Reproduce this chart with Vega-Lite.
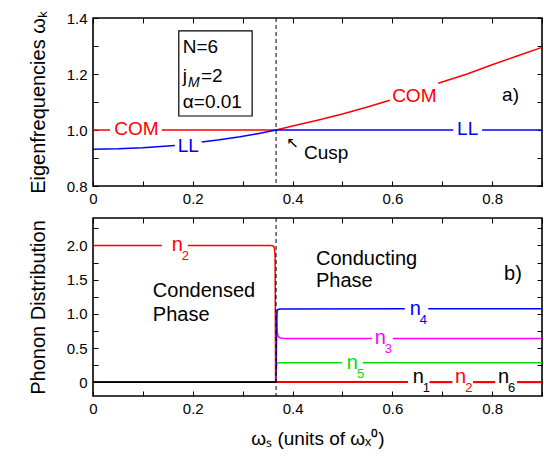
{
  "$schema": "https://vega.github.io/schema/vega-lite/v6.json",
  "padding": {"left": 27, "top": 9, "right": 0, "bottom": 5},
  "bounds": "flush",
  "spacing": 32,
  "resolve": {"scale": {"color": "independent"}},
  "config": {
    "font": "Liberation Sans",
    "view": {"stroke": "black", "strokeWidth": 1.6},
    "axis": {
      "grid": false, "domain": false, "ticks": true, "tickSize": -5, "tickColor": "black", "tickWidth": 1,
      "labelPadding": 10, "labelFontSize": 15, "labelColor": "black", "labelFont": "Liberation Sans",
      "titleFont": "Liberation Sans", "titleFontSize": 20, "titleFontWeight": "normal", "titleColor": "black",
      "labelOverlap": false, "labelFlush": false, "labelBound": false
    },
    "text": {"font": "Liberation Sans"}
  },
  "datasets": {
    "top": [
      {"s":"COM","g":"c1","x":0,"y":1},
      {"s":"COM","g":"c1","x":0.034,"y":1},
      {"s":"COM","g":"c2","x":0.138,"y":1},
      {"s":"COM","g":"c2","x":0.367,"y":1},
      {"s":"COM","g":"c2","x":0.4,"y":1.014},
      {"s":"COM","g":"c2","x":0.45,"y":1.035},
      {"s":"COM","g":"c2","x":0.5,"y":1.057},
      {"s":"COM","g":"c2","x":0.55,"y":1.082},
      {"s":"COM","g":"c2","x":0.595,"y":1.106},
      {"s":"COM","g":"c3","x":0.692,"y":1.167},
      {"s":"COM","g":"c3","x":0.75,"y":1.2},
      {"s":"COM","g":"c3","x":0.8,"y":1.233},
      {"s":"COM","g":"c3","x":0.85,"y":1.264},
      {"s":"COM","g":"c3","x":0.9,"y":1.295},
      {"s":"LL","g":"l1","x":0,"y":0.931},
      {"s":"LL","g":"l1","x":0.05,"y":0.933},
      {"s":"LL","g":"l1","x":0.1,"y":0.937},
      {"s":"LL","g":"l1","x":0.164,"y":0.945},
      {"s":"LL","g":"l2","x":0.218,"y":0.957},
      {"s":"LL","g":"l2","x":0.25,"y":0.964},
      {"s":"LL","g":"l2","x":0.295,"y":0.976},
      {"s":"LL","g":"l2","x":0.33,"y":0.987},
      {"s":"LL","g":"l2","x":0.367,"y":1.0},
      {"s":"LL","g":"l2","x":0.722,"y":1.0},
      {"s":"LL","g":"l3","x":0.78,"y":1.0},
      {"s":"LL","g":"l3","x":0.9,"y":1.0}
    ],
    "cusp": [{"x": 0.367}],
    "box": [{"x1": 0.172, "x2": 0.319, "y1": 1.05, "y2": 1.354}],
    "topLab": [
      {"s":"COM","x":0.087,"y":1.005,"t":"COM"},
      {"s":"LL","x":0.191,"y":0.942,"t":"LL"},
      {"s":"COM","x":0.644,"y":1.122,"t":"COM"},
      {"s":"LL","x":0.751,"y":1.003,"t":"LL"}
    ],
    "topAnn": [
      {"x":0.18,"y":1.297,"t":"N=6"},
      {"x":0.18,"y":1.192,"t":"j"},
      {"x":0.2165,"y":1.192,"t":"=2"},
      {"x":0.18,"y":1.101,"t":"α=0.01"},
      {"x":0.82,"y":1.125,"t":"a)"},
      {"x":0.423,"y":0.918,"t":"Cusp"}
    ],
    "topSub": [{"x":0.1904,"y":1.168,"t":"M"}],
    "arrow": [{"x":0.4,"y":0.952,"t":"↖"}],
    "bot": [
      {"s":"n5","g":"e1","x":0,"y":0},
      {"s":"n5","g":"e1","x":0.366,"y":0},
      {"s":"n5","g":"e1","x":0.3675,"y":0.15},
      {"s":"n5","g":"e1","x":0.368,"y":0.25},
      {"s":"n5","g":"e1","x":0.3695,"y":0.278},
      {"s":"n5","g":"e1","x":0.373,"y":0.287},
      {"s":"n5","g":"e1","x":0.499,"y":0.287},
      {"s":"n5","g":"e2","x":0.541,"y":0.287},
      {"s":"n5","g":"e2","x":0.9,"y":0.287},
      {"s":"n3","g":"c1","x":0,"y":0},
      {"s":"n3","g":"c1","x":0.366,"y":0},
      {"s":"n3","g":"c1","x":0.3675,"y":0.6},
      {"s":"n3","g":"c1","x":0.368,"y":1.0},
      {"s":"n3","g":"c1","x":0.3685,"y":0.9},
      {"s":"n3","g":"c1","x":0.369,"y":0.75},
      {"s":"n3","g":"c1","x":0.3705,"y":0.68},
      {"s":"n3","g":"c1","x":0.373,"y":0.655},
      {"s":"n3","g":"c1","x":0.378,"y":0.643},
      {"s":"n3","g":"c1","x":0.39,"y":0.64},
      {"s":"n3","g":"c1","x":0.559,"y":0.64},
      {"s":"n3","g":"c2","x":0.601,"y":0.64},
      {"s":"n3","g":"c2","x":0.9,"y":0.64},
      {"s":"n4","g":"d1","x":0,"y":0},
      {"s":"n4","g":"d1","x":0.366,"y":0},
      {"s":"n4","g":"d1","x":0.3675,"y":0.3},
      {"s":"n4","g":"d1","x":0.368,"y":0.9},
      {"s":"n4","g":"d1","x":0.369,"y":1.04},
      {"s":"n4","g":"d1","x":0.371,"y":1.065},
      {"s":"n4","g":"d1","x":0.375,"y":1.072},
      {"s":"n4","g":"d1","x":0.625,"y":1.074},
      {"s":"n4","g":"d2","x":0.672,"y":1.074},
      {"s":"n4","g":"d2","x":0.9,"y":1.074},
      {"s":"n1","g":"a1","x":0,"y":0},
      {"s":"n1","g":"a1","x":0.631,"y":0},
      {"s":"n1","g":"a2","x":0.675,"y":0},
      {"s":"n1","g":"a2","x":0.72,"y":0},
      {"s":"n1","g":"a3","x":0.762,"y":0},
      {"s":"n1","g":"a3","x":0.806,"y":0},
      {"s":"n1","g":"a4","x":0.85,"y":0},
      {"s":"n1","g":"a4","x":0.9,"y":0},
      {"s":"n6","g":"f1","x":0,"y":0},
      {"s":"n6","g":"f1","x":0.631,"y":0},
      {"s":"n6","g":"f2","x":0.675,"y":0},
      {"s":"n6","g":"f2","x":0.72,"y":0},
      {"s":"n6","g":"f3","x":0.762,"y":0},
      {"s":"n6","g":"f3","x":0.806,"y":0},
      {"s":"n6","g":"f4","x":0.85,"y":0},
      {"s":"n6","g":"f4","x":0.9,"y":0},
      {"s":"n2","g":"b1","x":0,"y":2},
      {"s":"n2","g":"b1","x":0.138,"y":2},
      {"s":"n2","g":"b2","x":0.19,"y":2},
      {"s":"n2","g":"b2","x":0.355,"y":2},
      {"s":"n2","g":"b2","x":0.36,"y":1.995},
      {"s":"n2","g":"b2","x":0.3635,"y":1.97},
      {"s":"n2","g":"b2","x":0.365,"y":1.85},
      {"s":"n2","g":"b2","x":0.3655,"y":1.0},
      {"s":"n2","g":"b2","x":0.366,"y":0.1},
      {"s":"n2","g":"b2","x":0.3665,"y":0.02},
      {"s":"n2","g":"b2","x":0.368,"y":0},
      {"s":"n2","g":"b2","x":0.631,"y":0},
      {"s":"n2","g":"b3","x":0.675,"y":0},
      {"s":"n2","g":"b3","x":0.72,"y":0},
      {"s":"n2","g":"b4","x":0.762,"y":0},
      {"s":"n2","g":"b4","x":0.806,"y":0},
      {"s":"n2","g":"b5","x":0.85,"y":0},
      {"s":"n2","g":"b5","x":0.9,"y":0}
    ],
    "botLab": [
      {"s":"n2","x":0.178,"y":2.0,"sub":"2"},
      {"s":"n4","x":0.655,"y":1.074,"sub":"4"},
      {"s":"n3","x":0.585,"y":0.64,"sub":"3"},
      {"s":"n5","x":0.529,"y":0.287,"sub":"5"},
      {"s":"n1","x":0.661,"y":0.08,"sub":"1"},
      {"s":"n2","x":0.746,"y":0.08,"sub":"2"},
      {"s":"n6","x":0.832,"y":0.08,"sub":"6"}
    ],
    "botAnn": [
      {"x":0.12,"y":1.33,"t":"Condensed"},
      {"x":0.12,"y":0.99,"t":"Phase"},
      {"x":0.447,"y":1.80,"t":"Conducting"},
      {"x":0.447,"y":1.485,"t":"Phase"},
      {"x":0.824,"y":1.587,"t":"b)"}
    ]
  },
  "vconcat": [
    {
      "width": 449,
      "height": 168,
      "resolve": {"axis": {"x": "independent", "y": "independent"}},
      "layer": [
        {
          "data": {"name": "top"},
          "mark": {"type": "line", "strokeWidth": 1.5},
          "encoding": {
            "x": {"field": "x", "type": "quantitative", "scale": {"domain": [0, 0.9], "nice": false, "zero": false},
              "axis": {"orient": "bottom", "title": null, "values": [0,0.1,0.2,0.3,0.4,0.5,0.6,0.7,0.8,0.9],
                "labelExpr": "round(datum.value*10) % 2 == 0 ? (datum.value == 0 ? '0' : format(datum.value, '.1f')) : ''"}},
            "y": {"field": "y", "type": "quantitative", "scale": {"domain": [0.8, 1.4], "nice": false, "zero": false},
              "axis": {"orient": "left", "title": "Eigenfrequencies ωₖ", "titlePadding": 18, "labelPadding": 11, "values": [0.8,0.9,1.0,1.1,1.2,1.3,1.4],
                "labelExpr": "round(datum.value*10) % 2 == 0 ? format(datum.value, '.1f') : ''"}},
            "color": {"field": "s", "type": "nominal", "scale": {"domain": ["COM","LL"], "range": ["#ff0000","#0000ff"]}, "legend": null},
            "detail": {"field": "g"}
          }
        },
        {
          "data": {"name": "cusp"},
          "mark": {"type": "rule", "color": "black", "strokeWidth": 1, "strokeDash": [4, 3]},
          "encoding": {
            "x": {"field": "x", "type": "quantitative", "scale": {"domain": [0, 0.9], "nice": false, "zero": false},
              "axis": {"orient": "top", "title": null, "labels": false, "values": [0,0.1,0.2,0.3,0.4,0.5,0.6,0.7,0.8,0.9]}}
          }
        },
        {
          "data": {"name": "box"},
          "mark": {"type": "rect", "fill": "white", "stroke": "black", "strokeWidth": 1.2},
          "encoding": {
            "x": {"field": "x1", "type": "quantitative", "scale": {"domain": [0, 0.9], "nice": false, "zero": false}, "axis": null},
            "x2": {"field": "x2"},
            "y": {"field": "y1", "type": "quantitative", "scale": {"domain": [0.8, 1.4], "nice": false, "zero": false},
              "axis": {"orient": "right", "title": null, "labels": false, "values": [0.8,0.9,1.0,1.1,1.2,1.3,1.4]}},
            "y2": {"field": "y2"}
          }
        },
        {
          "data": {"name": "topLab"},
          "mark": {"type": "text", "fontSize": 19, "align": "center", "baseline": "middle"},
          "encoding": {
            "x": {"field": "x", "type": "quantitative", "axis": null},
            "y": {"field": "y", "type": "quantitative", "axis": null},
            "text": {"field": "t"},
            "color": {"field": "s", "type": "nominal", "legend": null}
          }
        },
        {
          "data": {"name": "topAnn"},
          "mark": {"type": "text", "fontSize": 19, "align": "left", "baseline": "middle", "color": "black"},
          "encoding": {
            "x": {"field": "x", "type": "quantitative", "axis": null},
            "y": {"field": "y", "type": "quantitative", "axis": null},
            "text": {"field": "t"}
          }
        },
        {
          "data": {"name": "topSub"},
          "mark": {"type": "text", "fontSize": 14, "fontStyle": "italic", "align": "left", "baseline": "middle", "color": "black"},
          "encoding": {
            "x": {"field": "x", "type": "quantitative", "axis": null},
            "y": {"field": "y", "type": "quantitative", "axis": null},
            "text": {"field": "t"}
          }
        },
        {
          "data": {"name": "arrow"},
          "mark": {"type": "text", "font": "DejaVu Sans", "fontSize": 15, "align": "center", "baseline": "middle", "color": "black"},
          "encoding": {
            "x": {"field": "x", "type": "quantitative", "axis": null},
            "y": {"field": "y", "type": "quantitative", "axis": null},
            "text": {"field": "t"}
          }
        }
      ]
    },
    {
      "width": 449,
      "height": 178,
      "resolve": {"axis": {"x": "independent", "y": "independent"}},
      "layer": [
        {
          "data": {"name": "bot"},
          "mark": {"type": "line", "strokeWidth": 1.5},
          "encoding": {
            "x": {"field": "x", "type": "quantitative", "scale": {"domain": [0, 0.9], "nice": false, "zero": false},
              "axis": {"orient": "bottom", "title": "ωₛ (units of ωₓ⁰)", "titleFontSize": 19, "titlePadding": 13, "values": [0,0.1,0.2,0.3,0.4,0.5,0.6,0.7,0.8,0.9],
                "labelExpr": "round(datum.value*10) % 2 == 0 ? (datum.value == 0 ? '0' : format(datum.value, '.1f')) : ''"}},
            "y": {"field": "y", "type": "quantitative", "scale": {"domain": [-0.2, 2.4], "nice": false, "zero": false},
              "axis": {"orient": "left", "title": "Phonon Distribution", "titlePadding": 18, "labelPadding": 11, "values": [0,0.25,0.5,0.75,1.0,1.25,1.5,1.75,2.0,2.25],
                "labelExpr": "round(datum.value*4) % 2 == 0 ? (datum.value == 0 ? '0' : format(datum.value, '.1f')) : ''"}},
            "color": {"field": "s", "type": "nominal", "scale": {"domain": ["n1","n2","n3","n4","n5","n6"], "range": ["#000000","#ff0000","#ff00ff","#0000ff","#00e000","#000000"]}, "legend": null},
            "detail": {"field": "g"}
          }
        },
        {
          "data": {"name": "cusp"},
          "mark": {"type": "rule", "color": "black", "strokeWidth": 1, "strokeDash": [4, 3]},
          "encoding": {
            "x": {"field": "x", "type": "quantitative", "scale": {"domain": [0, 0.9], "nice": false, "zero": false},
              "axis": {"orient": "top", "title": null, "labels": false, "values": [0,0.1,0.2,0.3,0.4,0.5,0.6,0.7,0.8,0.9]}}
          }
        },
        {
          "data": {"name": "botAnn"},
          "mark": {"type": "text", "fontSize": 20, "align": "left", "baseline": "middle", "color": "black"},
          "encoding": {
            "x": {"field": "x", "type": "quantitative", "scale": {"domain": [0, 0.9], "nice": false, "zero": false}, "axis": null},
            "y": {"field": "y", "type": "quantitative", "scale": {"domain": [-0.2, 2.4], "nice": false, "zero": false},
              "axis": {"orient": "right", "title": null, "labels": false, "values": [0,0.25,0.5,0.75,1.0,1.25,1.5,1.75,2.0,2.25]}},
            "text": {"field": "t"}
          }
        },
        {
          "data": {"name": "botLab"},
          "mark": {"type": "text", "fontSize": 20, "align": "right", "baseline": "middle", "dx": 1},
          "encoding": {
            "x": {"field": "x", "type": "quantitative", "axis": null},
            "y": {"field": "y", "type": "quantitative", "axis": null},
            "text": {"value": "n"},
            "color": {"field": "s", "type": "nominal", "legend": null}
          }
        },
        {
          "data": {"name": "botLab"},
          "mark": {"type": "text", "fontSize": 13, "align": "left", "baseline": "middle", "dx": 0, "dy": 11},
          "encoding": {
            "x": {"field": "x", "type": "quantitative", "axis": null},
            "y": {"field": "y", "type": "quantitative", "axis": null},
            "text": {"field": "sub"},
            "color": {"field": "s", "type": "nominal", "legend": null}
          }
        }
      ]
    }
  ]
}
